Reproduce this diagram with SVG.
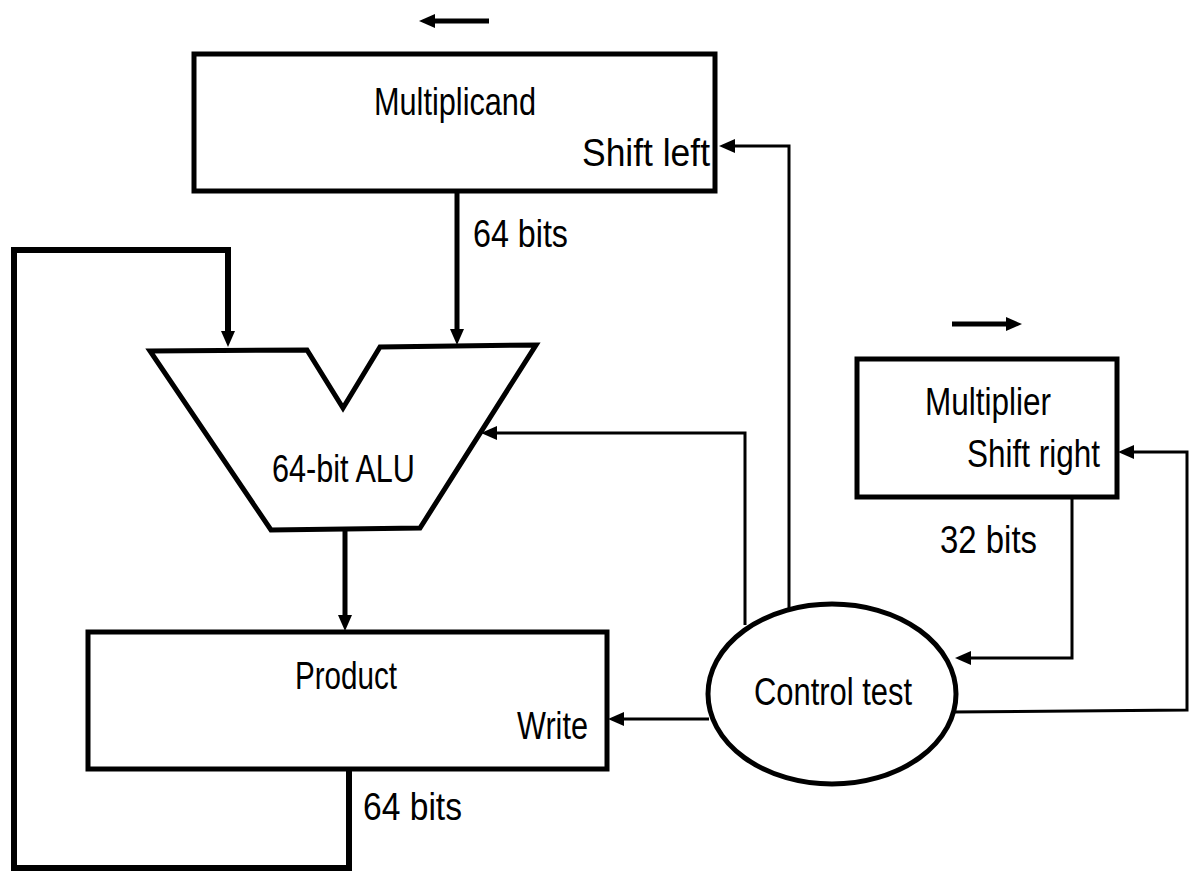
<svg xmlns="http://www.w3.org/2000/svg" width="1193" height="875" viewBox="0 0 1193 875">
<style>
.box{fill:#fff;stroke:#000;stroke-width:5}
.t{font-family:"Liberation Sans",Arial,sans-serif;font-size:38px;fill:#000}
.data{fill:none;stroke:#000;stroke-width:5}
.ctl{fill:none;stroke:#000;stroke-width:3}
</style>
<defs>
<marker id="ah" viewBox="0 0 16 14" refX="4" refY="7" markerWidth="16" markerHeight="14" markerUnits="userSpaceOnUse" orient="auto">
<path d="M0,0 L16,7 L0,14 z" fill="#000"/>
</marker>
</defs>
<rect width="1193" height="875" fill="#fff"/>
<g id="connectors">
<path class="data" d="M489,21 L431,21" marker-end="url(#ah)"/>
<path class="data" d="M952,324 L1010,324" marker-end="url(#ah)"/>
<path class="data" d="M457,191 L457,333" marker-end="url(#ah)"/>
<path class="data" style="stroke-width:6" d="M349,770 L349,868 L14,868 L14,250 L228,250 L228,335" marker-end="url(#ah)"/>
<path class="data" d="M345,529 L345,619" marker-end="url(#ah)"/>
<path class="ctl" d="M745,625 L745,433 L493,433" marker-end="url(#ah)"/>
<path class="ctl" d="M789,608 L789,146 L731,146" marker-end="url(#ah)"/>
<path class="ctl" d="M1072,497 L1072,658 L967,658" marker-end="url(#ah)"/>
<path class="ctl" d="M951,712 L1187,710 L1187,452 L1130,452" marker-end="url(#ah)"/>
<path class="ctl" d="M709,719 L620,719" marker-end="url(#ah)"/>
<text class="t" x="473" y="247" textLength="95" lengthAdjust="spacingAndGlyphs">64 bits</text>
<text class="t" x="363" y="820" textLength="99" lengthAdjust="spacingAndGlyphs">64 bits</text>
<text class="t" x="940" y="553" textLength="97" lengthAdjust="spacingAndGlyphs">32 bits</text>
</g>
<g id="multiplicand">
<rect class="box" x="194" y="54" width="521" height="137"/>
<text class="t" x="374" y="115" textLength="162" lengthAdjust="spacingAndGlyphs">Multiplicand</text>
<text class="t" x="582" y="166" textLength="128" lengthAdjust="spacingAndGlyphs">Shift left</text>
</g>
<g id="alu">
<polygon class="box" points="150,351 307,350 343,408 380,347 536,345 420,528 271,530"/>
<text class="t" x="272" y="482" textLength="143" lengthAdjust="spacingAndGlyphs">64-bit ALU</text>
</g>
<g id="product">
<rect class="box" x="88" y="632" width="519" height="137"/>
<text class="t" x="295" y="689" textLength="102" lengthAdjust="spacingAndGlyphs">Product</text>
<text class="t" x="517" y="739" textLength="71" lengthAdjust="spacingAndGlyphs">Write</text>
</g>
<g id="multiplier">
<rect class="box" x="857" y="359" width="260" height="138"/>
<text class="t" x="925" y="415" textLength="126" lengthAdjust="spacingAndGlyphs">Multiplier</text>
<text class="t" x="967" y="467" textLength="133" lengthAdjust="spacingAndGlyphs">Shift right</text>
</g>
<g id="control">
<ellipse class="box" cx="832" cy="694" rx="124" ry="90"/>
<text class="t" x="754" y="705" textLength="158" lengthAdjust="spacingAndGlyphs">Control test</text>
</g>
</svg>
